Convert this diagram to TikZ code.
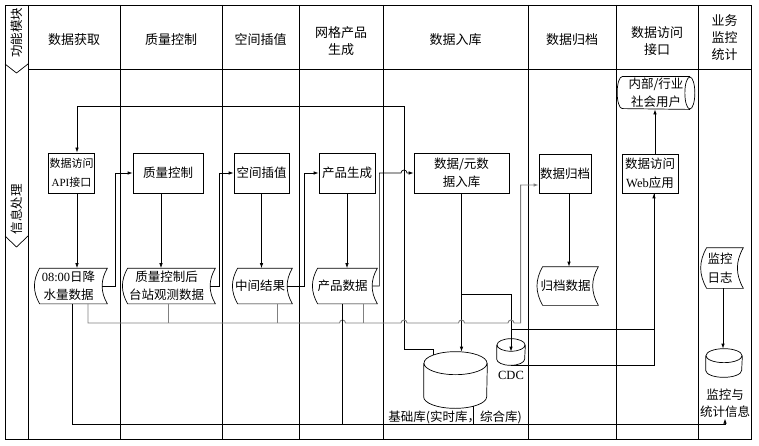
\documentclass[tikz,border=0pt]{standalone}
\usepackage{fontspec}
\setmainfont{Liberation Serif}
\newfontfamily\cjk{Noto Sans CJK SC}
\usepackage{tikz}
\usetikzlibrary{arrows.meta}
\definecolor{busgray}{HTML}{808080}

\begin{document}
\begin{tikzpicture}[x=1pt,y=-1pt,line width=0.7pt,>={Latex[length=5pt,width=3.5pt]},
    every node/.style={font=\cjk\fontsize{12.5}{18.5}\selectfont,align=center,inner sep=1pt},
    box/.style={draw,minimum height=40pt},
    datafile/.style={minimum height=35pt},
    bus/.style={busgray,line width=0.9pt}]
  \useasboundingbox (0,0) rectangle (759,446);
  % swimlanes
  \draw (5,5) rectangle (751,439);
  \draw (28,69) -- (751,69);
  \foreach \x in {28,120,222,299,383,528,616,698} \draw (\x,5) -- (\x,439);
  \draw (5,64) -- (16.5,73) -- (28,64);
  \draw (5,236) -- (16.5,247) -- (28,236);
  \node[rotate=90] (fm) at (16.5,33) {功能模块};
  \node[rotate=90] (ip) at (16.5,209) {信息处理};
  \foreach \x/\y/\t [count=\i] in {74/40/数据获取,171/40/质量控制,260.5/40/空间插值,341/41/网格产品\\生成,
      455.5/40/数据入库,572/40/数据归档,657/41/数据访问\\接口,724.5/38/业务\\监控\\统计}
    \node[font=\cjk\fontsize{13}{17}\selectfont] (h\i) at (\x,\y) {\t};

  % processes
  \node[box,minimum width=45pt,font=\cjk\fontsize{11}{19}\selectfont] (api) at (71.5,173) {数据访问\\{\rmfamily API}接口};
  \node[box,minimum width=70pt] (qc) at (168,173) {质量控制};
  \node[box,minimum width=55pt] (interp) at (261.5,173) {空间插值};
  \node[box,minimum width=56pt] (prodgen) at (347,173) {产品生成};
  \node[box,minimum width=95pt] (ingest) at (461.5,173) {数据/元数\\据入库};
  \node[box,minimum width=52pt,minimum height=39pt] (archive) at (565,173.5) {数据归档};
  \node[box,minimum width=56pt,minimum height=39pt] (web) at (650,173.5) {数据访问\\{\rmfamily Web}应用};
  \node[minimum width=77pt,minimum height=32pt] (users) at (656,93) {内部/行业\\社会用户};
  \draw ([xshift=-5pt]users.north east) -- ([xshift=5pt]users.north west)
    arc[start angle=90,end angle=270,x radius=5pt,y radius=16pt] -- ([xshift=-5pt]users.south east)
    ([xshift=-5pt]users.east) ellipse[x radius=5pt,y radius=16pt];

  % data
  \node[datafile,minimum width=67pt] (rain) at (68.5,286) {{\rmfamily 08:00}日降\\水量数据};
  \node[datafile,minimum width=87pt] (qcdata) at (166.5,286) {质量控制后\\台站观测数据};
  \node[datafile,minimum width=54pt] (middata) at (260,286) {中间结果};
  \node[datafile,minimum width=59pt] (proddata) at (342.5,286) {产品数据};
  \node[datafile,minimum width=55pt,minimum height=38pt] (archdata) at (565.5,286) {归档数据};
  \node[datafile,minimum width=36pt,minimum height=40pt] (log) at (720,268) {监控\\日志};
  \foreach \n in {rain,qcdata,middata,proddata,archdata,log}
    \draw ([xshift=5pt]\n.north west) to[bend right=30] ([xshift=5pt]\n.south west) -- ([xshift=5pt]\n.south east)
      to[bend left=30] ([xshift=5pt]\n.north east) -- cycle;

  % stores
  \node[minimum width=63pt,minimum height=56pt] (basedb) at (455.5,380) {};
  \node[minimum width=28pt,minimum height=26pt] (cdc) at (511,352) {};
  \node[minimum width=36pt,minimum height=28pt] (monitor) at (724,363) {};
  \foreach \n/\rx/\ry in {basedb/31.5/11.5,cdc/14/6.3,monitor/18/7}
    \draw ([yshift=-\ry pt]\n.north west) -- ([yshift=\ry pt]\n.south west)
      arc[start angle=180,end angle=360,x radius=\rx pt,y radius=\ry pt] -- ([yshift=-\ry pt]\n.north east)
      ([yshift=-\ry pt]\n.north) ellipse[x radius=\rx pt,y radius=\ry pt];
  \node (basedbl) at (455,417) {基础库(实时库，综合库)};
  \node[font=\rmfamily\fontsize{12.5}{15}\selectfont] (cdcl) at (511,375) {CDC};
  \node[font=\cjk\fontsize{12.5}{17}\selectfont] (monitorl) at (725,403) {监控与\\统计信息};

  \coordinate (loop) at (404,106);
  \coordinate (bus) at (0,323);
  \coordinate (bottom) at (0,424);

  % flow
  \draw[->] ([xshift=5.5pt]api.south) -- ([xshift=5.5pt]api.south |- rain.north);
  \draw[->] ([xshift=-7pt]qc.south) -- ([xshift=-7pt]qc.south |- qcdata.north);
  \draw[->] (interp.south) -- (interp.south |- middata.north);
  \draw[->] (prodgen.south) -- (prodgen.south |- proddata.north);
  \draw[->] ([xshift=4pt]archive.south) -- ([xshift=4pt]archive.south |- archdata.north);
  \draw[->] ([xshift=3pt]log.south) -- ([xshift=3pt]log.south |- monitor.north);
  \draw[->] ([xshift=5pt]web.north) -- ([xshift=5pt]web.north |- users.south);
  \draw[->] (rain.east) -- ++(13,0) |- (qc.west);
  \draw[->] (qcdata.east) -- ++(9,0) |- (interp.west);
  \draw[->] (middata.east) -- ++(17,0) |- (prodgen.west);
  \draw[->] (proddata.east) -- ++(7,0) |- ([xshift=-3pt]loop |- ingest.west)
    arc[start angle=180,end angle=0,radius=3pt] -- (ingest.west);
  \draw[->] ([xshift=-22.5pt,yshift=-3.5pt]basedb.north) -- ++(0,-5.5) -| (loop) -| ([xshift=5.5pt]api.north);
  \draw[->] (ingest.south) -- (ingest.south |- basedb.north);
  \draw[->] ([yshift=-101pt]ingest.south) -| ([yshift=-13pt]cdc.north);
  \draw[->] ([yshift=9pt]cdc.north) -| ([xshift=4pt]web.south);
  \draw (cdc.south) -| ([xshift=4pt]web.south);

  % gray bus to archive
  \draw[bus,->] ([xshift=19.5pt]rain.south) |- ([xshift=-3pt]proddata.south |- bus)
    arc[start angle=180,end angle=0,radius=3pt] -- ([xshift=-3pt]loop |- bus)
    arc[start angle=180,end angle=0,radius=3pt] -- ([xshift=-3pt]ingest.south |- bus)
    arc[start angle=180,end angle=0,radius=3pt] -- ([xshift=-3pt]cdc.north |- bus)
    arc[start angle=180,end angle=0,radius=3pt] -- ([xshift=-18pt]archive.west |- bus)
    |- ([yshift=-11.5pt]archive.west);
  \foreach \n/\s in {qcdata/1.5,middata/17,proddata/20.5}
    \draw[bus] ([xshift=\s pt]\n.south) -- ([xshift=\s pt]\n.south |- bus);

  % bottom line to monitoring
  \draw[->] ([xshift=3.5pt]rain.south) |- (monitorl.south |- bottom) -- (monitorl.south);
  \draw (proddata.south) -- (proddata.south |- bottom);
  \draw ([xshift=17.5pt,yshift=2pt]basedb.south) -- ([xshift=17.5pt]basedb.south |- bottom);
\end{tikzpicture}
\end{document}
